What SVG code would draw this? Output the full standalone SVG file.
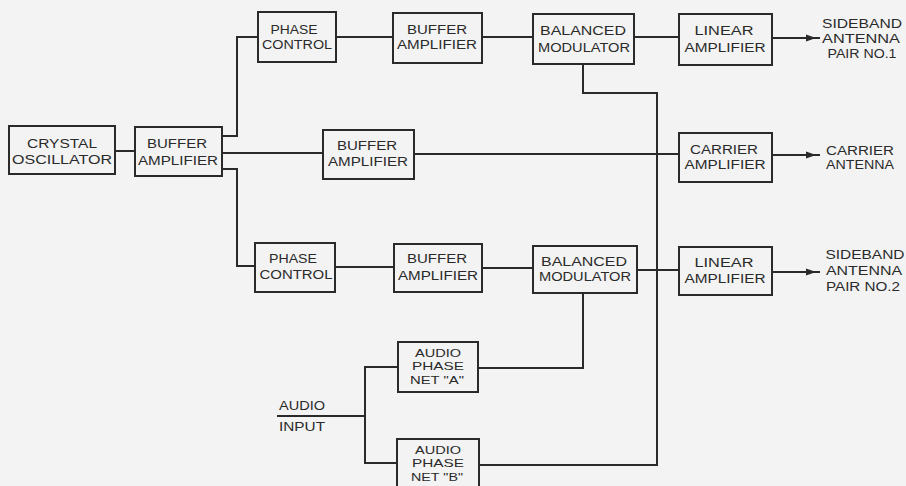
<svg xmlns="http://www.w3.org/2000/svg" width="906" height="486" viewBox="0 0 906 486">
<style>
.bx{fill:none;stroke:#2a2a2a;stroke-width:2}
.ln{fill:none;stroke:#2a2a2a;stroke-width:2}
text{font-family:"Liberation Sans",Arial,sans-serif;font-size:12px;fill:#2a2a2a;text-anchor:middle}
.l{text-anchor:start}
.s{font-size:11px}
</style>
<defs>
<marker id="ah" markerUnits="userSpaceOnUse" markerWidth="16" markerHeight="10" refX="14" refY="5" orient="auto">
<path d="M0,1.5 L10,5 L0,8.5 Z" fill="#2a2a2a"/>
</marker>
</defs>
<rect width="906" height="486" fill="#f3f3f3"/>
<g id="connectors">
<path class="ln" d="M115 151 H135"/>
<path class="ln" d="M222 136 H237 V37 H258"/>
<path class="ln" d="M222 169 H237 V266 H255"/>
<path class="ln" d="M336 37 H393"/>
<path class="ln" d="M482 37 H533"/>
<path class="ln" d="M634 37 H679"/>
<path class="ln" d="M772 38 H820" marker-end="url(#ah)"/>
<path class="ln" d="M222 153 H323"/>
<path class="ln" d="M414 154 H679"/>
<path class="ln" d="M772 155 H820" marker-end="url(#ah)"/>
<path class="ln" d="M335 267 H394"/>
<path class="ln" d="M482 268 H533"/>
<path class="ln" d="M637 270 H679"/>
<path class="ln" d="M772 272 H820" marker-end="url(#ah)"/>
<path class="ln" d="M583 64 V93 H657 V465 H479"/>
<path class="ln" d="M583 293 V368 H478"/>
<path class="ln" d="M277 416 H365"/>
<path class="ln" d="M398 367 H365 V463 H397"/>
</g>
<g id="crystal-oscillator">
<rect class="bx" x="9" y="126" width="106" height="48"/>
<text x="62" y="148" textLength="70" lengthAdjust="spacingAndGlyphs">CRYSTAL</text>
<text x="62" y="164" textLength="100" lengthAdjust="spacingAndGlyphs">OSCILLATOR</text>
</g>
<g id="buffer-amplifier-1">
<rect class="bx" x="135" y="127" width="87" height="49"/>
<text x="177" y="148" textLength="60" lengthAdjust="spacingAndGlyphs">BUFFER</text>
<text x="178" y="165" textLength="80" lengthAdjust="spacingAndGlyphs">AMPLIFIER</text>
</g>
<g id="phase-control-1">
<rect class="bx" x="258" y="12" width="78" height="50"/>
<text x="294" y="34" textLength="47" lengthAdjust="spacingAndGlyphs">PHASE</text>
<text x="297" y="49" textLength="70" lengthAdjust="spacingAndGlyphs">CONTROL</text>
</g>
<g id="buffer-amplifier-2">
<rect class="bx" x="393" y="13" width="89" height="50"/>
<text x="437" y="34" textLength="60" lengthAdjust="spacingAndGlyphs">BUFFER</text>
<text x="437" y="49" textLength="80" lengthAdjust="spacingAndGlyphs">AMPLIFIER</text>
</g>
<g id="balanced-modulator-1">
<rect class="bx" x="533" y="14" width="101" height="50"/>
<text x="583" y="35" textLength="86" lengthAdjust="spacingAndGlyphs">BALANCED</text>
<text x="584" y="52" textLength="92" lengthAdjust="spacingAndGlyphs">MODULATOR</text>
</g>
<g id="linear-amplifier-1">
<rect class="bx" x="679" y="14" width="93" height="51"/>
<text x="724" y="35" textLength="59" lengthAdjust="spacingAndGlyphs">LINEAR</text>
<text x="725" y="52" textLength="81" lengthAdjust="spacingAndGlyphs">AMPLIFIER</text>
</g>
<g id="sideband-antenna-1">
<text x="862" y="28" textLength="80" lengthAdjust="spacingAndGlyphs">SIDEBAND</text>
<text x="861" y="43" textLength="78" lengthAdjust="spacingAndGlyphs">ANTENNA</text>
<text x="862" y="58" textLength="69" lengthAdjust="spacingAndGlyphs">PAIR NO.1</text>
</g>
<g id="buffer-amplifier-3">
<rect class="bx" x="323" y="130" width="91" height="49"/>
<text x="367" y="150" textLength="60" lengthAdjust="spacingAndGlyphs">BUFFER</text>
<text x="368" y="166" textLength="80" lengthAdjust="spacingAndGlyphs">AMPLIFIER</text>
</g>
<g id="carrier-amplifier">
<rect class="bx" x="679" y="133" width="93" height="49"/>
<text x="724" y="154" textLength="68" lengthAdjust="spacingAndGlyphs">CARRIER</text>
<text x="725" y="169" textLength="81" lengthAdjust="spacingAndGlyphs">AMPLIFIER</text>
</g>
<g id="carrier-antenna">
<text x="860" y="155" textLength="68" lengthAdjust="spacingAndGlyphs">CARRIER</text>
<text x="860" y="169" textLength="68" lengthAdjust="spacingAndGlyphs">ANTENNA</text>
</g>
<g id="phase-control-2">
<rect class="bx" x="255" y="243" width="80" height="49"/>
<text x="293" y="263" textLength="48" lengthAdjust="spacingAndGlyphs">PHASE</text>
<text x="296" y="279" textLength="73" lengthAdjust="spacingAndGlyphs">CONTROL</text>
</g>
<g id="buffer-amplifier-4">
<rect class="bx" x="394" y="244" width="88" height="48"/>
<text x="437" y="263" textLength="60" lengthAdjust="spacingAndGlyphs">BUFFER</text>
<text x="438" y="280" textLength="80" lengthAdjust="spacingAndGlyphs">AMPLIFIER</text>
</g>
<g id="balanced-modulator-2">
<rect class="bx" x="533" y="246" width="104" height="47"/>
<text x="584" y="266" textLength="86" lengthAdjust="spacingAndGlyphs">BALANCED</text>
<text x="585" y="281" textLength="92" lengthAdjust="spacingAndGlyphs">MODULATOR</text>
</g>
<g id="linear-amplifier-2">
<rect class="bx" x="679" y="247" width="93" height="48"/>
<text x="724" y="267" textLength="59" lengthAdjust="spacingAndGlyphs">LINEAR</text>
<text x="725" y="283" textLength="81" lengthAdjust="spacingAndGlyphs">AMPLIFIER</text>
</g>
<g id="sideband-antenna-2">
<text x="865" y="259" textLength="79" lengthAdjust="spacingAndGlyphs">SIDEBAND</text>
<text x="864" y="275" textLength="76" lengthAdjust="spacingAndGlyphs">ANTENNA</text>
<text x="863" y="291" textLength="74" lengthAdjust="spacingAndGlyphs">PAIR NO.2</text>
</g>
<g id="audio-phase-net-a">
<rect class="bx" x="398" y="342" width="80" height="50"/>
<text class="s" x="438" y="357" textLength="46" lengthAdjust="spacingAndGlyphs">AUDIO</text>
<text class="s" x="438" y="370" textLength="52" lengthAdjust="spacingAndGlyphs">PHASE</text>
<text class="s" x="437" y="384" textLength="54" lengthAdjust="spacingAndGlyphs">NET "A"</text>
</g>
<g id="audio-phase-net-b">
<rect class="bx" x="397" y="439" width="82" height="52"/>
<text class="s" x="438" y="454" textLength="46" lengthAdjust="spacingAndGlyphs">AUDIO</text>
<text class="s" x="438" y="467" textLength="52" lengthAdjust="spacingAndGlyphs">PHASE</text>
<text class="s" x="437" y="481" textLength="52" lengthAdjust="spacingAndGlyphs">NET "B"</text>
</g>
<g id="audio-input">
<text class="l" x="279" y="410" textLength="46" lengthAdjust="spacingAndGlyphs">AUDIO</text>
<text class="l" x="279" y="431" textLength="46" lengthAdjust="spacingAndGlyphs">INPUT</text>
</g>
</svg>
